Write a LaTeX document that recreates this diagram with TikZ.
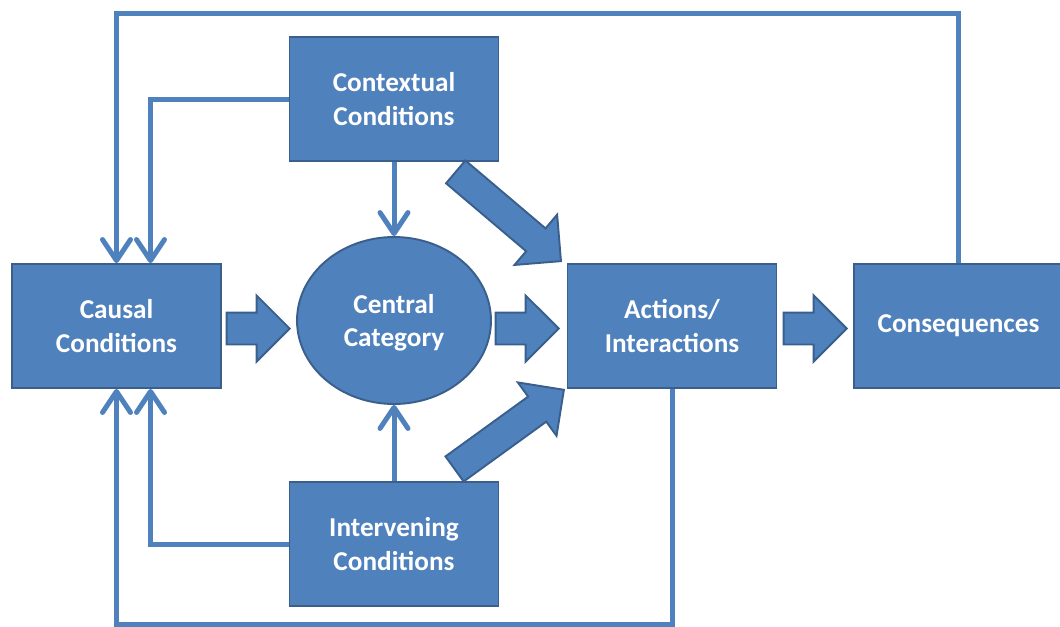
\documentclass[tikz,border=0pt]{standalone}
\usepackage{fontspec}
\setmainfont{Carlito}
\usetikzlibrary{shapes.geometric,shapes.arrows,arrows.meta,calc}
\definecolor{boxblue}{HTML}{4F81BD}
\definecolor{edgeblue}{HTML}{3A5F8C}
\tikzset{
    block/.style={draw=edgeblue, line width=1.1pt, fill=boxblue, text=white, align=center,
        font=\fontsize{15.5}{19}\selectfont\bfseries, minimum width=4.18cm, minimum height=2.48cm, inner sep=0pt},
    category/.style={block, ellipse, minimum width=3.88cm, minimum height=3.34cm},
    link/.style={draw=boxblue, line width=0.1cm, -{Straight Barb[length=0.42cm, width=0.56cm, round]}},
    fatarrow/.style={single arrow, draw=edgeblue, line width=1.1pt, fill=boxblue, inner sep=0pt, anchor=tip,
        text height=0.6cm, text depth=0pt, single arrow head extend=0.34cm, single arrow tip angle=90,
        minimum height=1.26cm}
}
\begin{document}
\begin{tikzpicture}[x=0.02cm, y=-0.02cm]
        \useasboundingbox (0, 0) rectangle (1060, 626);
        \node[block] (causal) at (116.5, 326) {Causal\\Conditions};
        \node[block] (ctx) at (394, 99) {Contextual\\Conditions};
        \node[block] (intv) at (394, 544) {Intervening\\Conditions};
        \node[category] (cat) at (394, 320.5) {};
        \node[text=white, align=center, font=\fontsize{15.5}{19}\selectfont\bfseries] (catlabel) at (394, 323) {Central\\Category};
        \node[block] (act) at (672, 326) {Actions/\\Interactions};
        \node[block] (cons) at (958.5, 326) {Consequences};
        \coordinate (top) at (0, 13);
        \coordinate (bot) at (0, 624);
        % feedback lines
        \draw[link] (cons.north) -- (cons.north |- top) -| (causal.north);
        \draw[link] (act.south) -- (act.south |- bot) -| (causal.south);
        \draw[link] (ctx.west) -| ($(causal.north)+(34, 0)$);
        \draw[link] (intv.west) -| ($(causal.south)+(34, 0)$);
        \draw[link] (ctx.south) -- (cat.north);
        \draw[link] (intv.north) -- (cat.south);
        % block arrows, placed by their tips
        \node[fatarrow] (a1) at (291, 328.5) {};
        \node[fatarrow] (a2) at (560, 328.5) {};
        \node[fatarrow] (a3) at (848, 328.5) {};
        \node[fatarrow, rotate=-40.3, minimum height=2.76cm, text height=0.56cm, single arrow head extend=0.36cm] (a4) at (562, 262) {};
        \node[fatarrow, rotate=35.9, minimum height=2.7cm, text height=0.58cm, single arrow head extend=0.35cm] (a5) at (565, 389) {};
\end{tikzpicture}
\end{document}
